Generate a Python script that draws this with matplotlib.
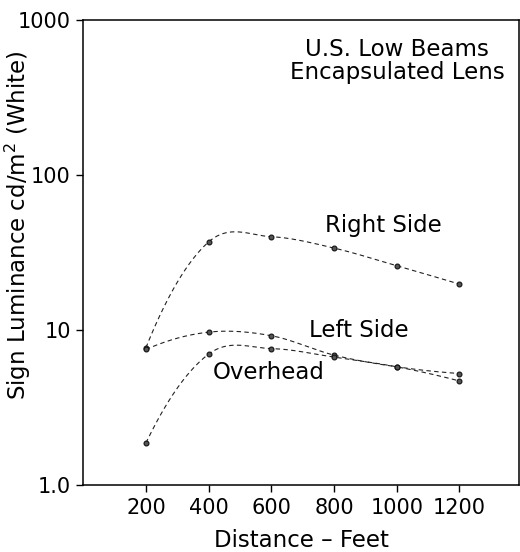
import numpy as np
import matplotlib
matplotlib.use("Agg")
import matplotlib.pyplot as plt
from matplotlib.ticker import FixedLocator, FixedFormatter, NullLocator

plt.rcParams['font.family'] = ['DejaVu Sans']
plt.rcParams['mathtext.fontset'] = 'dejavusans'

distance = [200, 400, 600, 800, 1000, 1200]
right_side = [7.7, 37, 40, 33.8, 26, 19.8]
left_side = [7.5, 9.7, 9.2, 6.9, 5.8, 5.25]
overhead = [1.87, 7.0, 7.6, 6.7, 5.8, 4.7]

y_ticks = [1, 10, 100, 1000]
y_tick_labels = ['1.0', '10', '100', '1000']


def smooth(x, y, n=60):
    # cubic hermite curve through the points in log space (drawing only)
    x = np.asarray(x, float)
    y = np.log10(np.asarray(y, float))
    sec = np.diff(y) / np.diff(x)
    m = np.empty_like(y)
    m[1:-1] = (y[2:] - y[:-2]) / (x[2:] - x[:-2])
    m[0] = 2 * sec[0] - m[1]
    m[-1] = 2 * sec[-1] - m[-2]
    xs, ys = [], []
    for i in range(len(x) - 1):
        h = x[i + 1] - x[i]
        t = np.linspace(0, 1, n)
        h00 = 2 * t**3 - 3 * t**2 + 1
        h10 = t**3 - 2 * t**2 + t
        h01 = -2 * t**3 + 3 * t**2
        h11 = t**3 - t**2
        xs.append(x[i] + t * h)
        ys.append(h00 * y[i] + h10 * h * m[i] + h01 * y[i + 1] + h11 * h * m[i + 1])
    return np.concatenate(xs), 10 ** np.concatenate(ys)


fig = plt.figure(figsize=(5.2, 5.52), dpi=100)
ax = fig.add_axes([0.16, 0.121, 0.838, 0.843])

for series in (right_side, left_side, overhead):
    xs, ys = smooth(distance, series)
    ax.plot(xs, ys, color='#222222', lw=0.8, ls=(0, (4, 3)))
    ax.plot(distance, series, 'o', ms=3.5, mfc='#555555', mec='#111111', mew=0.8)

ax.set_yscale('log')
ax.set_xlim(0, 1390)
ax.set_ylim(1, 1000)
ax.set_xticks(distance)
ax.set_xticklabels([str(d) for d in distance])
ax.yaxis.set_major_locator(FixedLocator(y_ticks))
ax.yaxis.set_major_formatter(FixedFormatter(y_tick_labels))
ax.yaxis.set_minor_locator(NullLocator())
ax.tick_params(axis='both', direction='out', length=5, width=1, labelsize=15, pad=4)

for s in ax.spines.values():
    s.set_linewidth(1.1)

ax.set_xlabel('Distance – Feet', fontsize=16.5, labelpad=8)
fig.text(0.035, 0.593, 'Sign Luminance cd/m$^2$ (White)', fontsize=16.5,
         rotation=90, ha='center', va='center')

ax.text(1002, 543, 'U.S. Low Beams\nEncapsulated Lens', fontsize=16.5,
        ha='center', va='center', linespacing=1.0)
ax.text(957, 47, 'Right Side', fontsize=16.5, ha='center', va='center')
ax.text(880, 10, 'Left Side', fontsize=16.5, ha='center', va='center')
ax.text(591, 5.3, 'Overhead', fontsize=16.5, ha='center', va='center')

fig.savefig('out.png', dpi=100)
